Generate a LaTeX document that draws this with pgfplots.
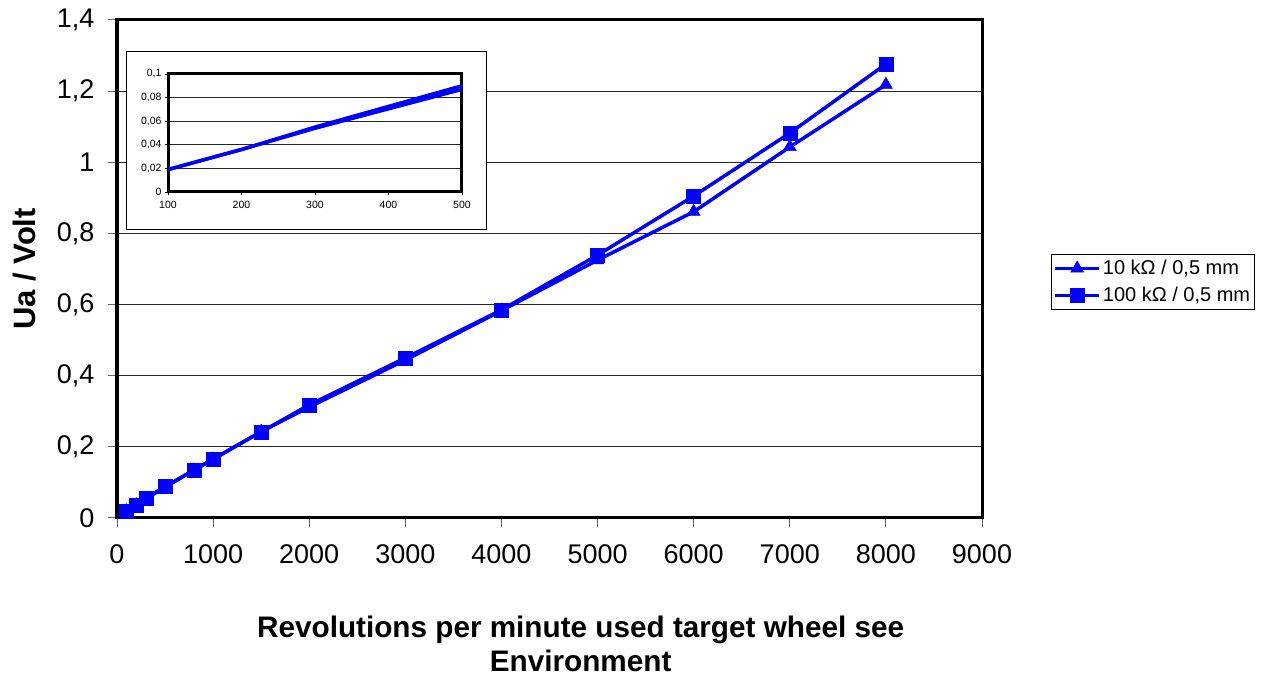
\documentclass[border=0pt]{standalone}
\usepackage{fontspec}
\setmainfont{Liberation Sans}
\usepackage{pgfplots}
\pgfplotsset{compat=1.18}

\definecolor{lineblue}{RGB}{0,0,255}

\pgfplotsset{
  excelaxis/.style={
    scale only axis,
    axis background/.style={fill=white},
    axis line style={line width=3pt},
    tick align=outside,
    xtick pos=lower, ytick pos=left,
    tick style={line width=1pt, gray!80!black},
    ymajorgrids,
    grid style={line width=0.9pt, black!85},
    scaled ticks=false,
    /pgf/number format/fixed,
    /pgf/number format/precision=2,
    /pgf/number format/use comma,
    /pgf/number format/1000 sep={},
    /pgf/number format/assume math mode=true,
  },
}

\begin{document}
\begin{tikzpicture}
\useasboundingbox (0pt,0pt) rectangle (1261pt,677pt);

% main chart
\begin{axis}[
  excelaxis,
  at={(117pt,159pt)}, anchor=south west,
  width=865pt, height=498pt,
  xmin=0, xmax=9000, ymin=0, ymax=1.4,
  xtick={0,1000,...,9000},
  ytick={0,0.2,0.4,0.6,0.8,1,1.2,1.4},
  major tick length=9pt,
  tick label style={font=\fontsize{27}{32}\selectfont},
  xticklabel style={yshift=-14pt},
  yticklabel style={xshift=-10pt},
  xlabel={Revolutions per minute used target wheel see\\Environment},
  xlabel style={at={(axis description cs:0.536,-0.19)}, anchor=north,
    align=center, font=\bfseries\fontsize{29.7}{34}\selectfont},
  ylabel={Ua / Volt},
  ylabel style={at={(axis description cs:-0.107,0.5)}, anchor=center,
    font=\bfseries\fontsize{31}{34}\selectfont},
  legend cell align=left,
  legend style={at={(axis description cs:1.0798,0.530)}, anchor=north west,
    draw=black, line width=0.8pt, font=\fontsize{20}{24}\selectfont,
    inner xsep=2pt, inner ysep=4pt, row sep=7pt},
  legend image code/.code={%
    \draw[mark repeat=2, mark phase=2]
      plot coordinates {(0pt,0pt) (22pt,0pt) (44pt,0pt)};},
]
\addplot[color=lineblue, line width=3.5pt, mark=triangle*, mark size=7.5pt,
  mark options={line width=0.5pt}]
  coordinates {
  (100,0.019)(200,0.036)(300,0.054)(500,0.087)(800,0.134)(1000,0.165)
  (1500,0.243)(2000,0.312)(3000,0.444)(4000,0.583)(5000,0.725)
  (6000,0.861)(7000,1.043)(8000,1.218)
  };
\addlegendentry{10 kΩ / 0,5 mm}
\addplot[color=lineblue, line width=3.5pt, mark=square*, mark size=7pt,
  mark options={line width=0.5pt}]
  coordinates {
  (100,0.019)(200,0.037)(300,0.056)(500,0.088)(800,0.135)(1000,0.166)
  (1500,0.242)(2000,0.318)(3000,0.450)(4000,0.585)(5000,0.739)
  (6000,0.905)(7000,1.082)(8000,1.276)
  };
\addlegendentry{100 kΩ / 0,5 mm}
\end{axis}

% frame of the inset chart
\draw[fill=white, line width=1pt] (126pt,447pt) rectangle (486pt,625pt);

% inset chart
\begin{axis}[
  excelaxis,
  at={(168pt,485pt)}, anchor=south west,
  width=294pt, height=118pt,
  xmin=100, xmax=500, ymin=0, ymax=0.1,
  xtick={100,200,300,400,500},
  ytick={0,0.02,0.04,0.06,0.08,0.1},
  major tick length=3pt,
  tick style={line width=0.8pt, black},
  tick label style={font=\fontsize{10.5}{12}\selectfont},
  xticklabel style={yshift=-3pt},
]
\addplot[color=lineblue, line width=3.5pt, mark=none]
  coordinates {(100,0.019)(200,0.036)(300,0.054)(500,0.087)};
\addplot[color=lineblue, line width=3.5pt, mark=none]
  coordinates {(100,0.019)(200,0.036)(300,0.055)(500,0.090)};
\end{axis}
\end{tikzpicture}
\end{document}
